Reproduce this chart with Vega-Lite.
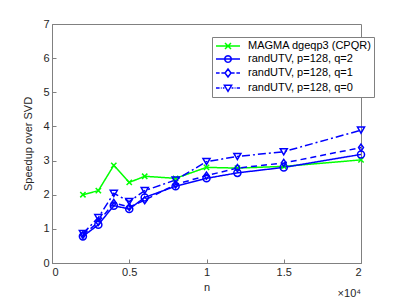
{
  "$schema": "https://vega.github.io/schema/vega-lite/v6.json",
  "width": 309,
  "height": 239,
  "autosize": "none",
  "padding": {"left": 52, "top": 24, "right": 38, "bottom": 36},
  "background": "white",
  "config": {
    "font": "Liberation Sans",
    "view": {"stroke": "#808080", "strokeWidth": 1},
    "axis": {
      "domainColor": "#808080",
      "tickColor": "#808080",
      "labelColor": "#262626",
      "titleColor": "#262626",
      "labelFontSize": 11,
      "titleFontSize": 11,
      "titleFontWeight": "normal",
      "grid": false,
      "tickSize": -4
    }
  },
  "data": {
    "values": [
      {"series": "MAGMA dgeqp3 (CPQR)", "n": 2000, "speedup": 2.0},
      {"series": "MAGMA dgeqp3 (CPQR)", "n": 3000, "speedup": 2.12},
      {"series": "MAGMA dgeqp3 (CPQR)", "n": 4000, "speedup": 2.86},
      {"series": "MAGMA dgeqp3 (CPQR)", "n": 5000, "speedup": 2.36},
      {"series": "MAGMA dgeqp3 (CPQR)", "n": 6000, "speedup": 2.54},
      {"series": "MAGMA dgeqp3 (CPQR)", "n": 8000, "speedup": 2.48},
      {"series": "MAGMA dgeqp3 (CPQR)", "n": 10000, "speedup": 2.8},
      {"series": "MAGMA dgeqp3 (CPQR)", "n": 12000, "speedup": 2.78},
      {"series": "MAGMA dgeqp3 (CPQR)", "n": 15000, "speedup": 2.83},
      {"series": "MAGMA dgeqp3 (CPQR)", "n": 20000, "speedup": 3.02},
      {"series": "randUTV, p=128, q=2", "n": 2000, "speedup": 0.78},
      {"series": "randUTV, p=128, q=2", "n": 3000, "speedup": 1.12},
      {"series": "randUTV, p=128, q=2", "n": 4000, "speedup": 1.68},
      {"series": "randUTV, p=128, q=2", "n": 5000, "speedup": 1.58},
      {"series": "randUTV, p=128, q=2", "n": 6000, "speedup": 1.92},
      {"series": "randUTV, p=128, q=2", "n": 8000, "speedup": 2.25},
      {"series": "randUTV, p=128, q=2", "n": 10000, "speedup": 2.48},
      {"series": "randUTV, p=128, q=2", "n": 12000, "speedup": 2.64},
      {"series": "randUTV, p=128, q=2", "n": 15000, "speedup": 2.8},
      {"series": "randUTV, p=128, q=2", "n": 20000, "speedup": 3.18},
      {"series": "randUTV, p=128, q=1", "n": 2000, "speedup": 0.82},
      {"series": "randUTV, p=128, q=1", "n": 3000, "speedup": 1.2},
      {"series": "randUTV, p=128, q=1", "n": 4000, "speedup": 1.76},
      {"series": "randUTV, p=128, q=1", "n": 5000, "speedup": 1.64},
      {"series": "randUTV, p=128, q=1", "n": 6000, "speedup": 1.84},
      {"series": "randUTV, p=128, q=1", "n": 8000, "speedup": 2.3},
      {"series": "randUTV, p=128, q=1", "n": 10000, "speedup": 2.56},
      {"series": "randUTV, p=128, q=1", "n": 12000, "speedup": 2.78},
      {"series": "randUTV, p=128, q=1", "n": 15000, "speedup": 2.93},
      {"series": "randUTV, p=128, q=1", "n": 20000, "speedup": 3.38},
      {"series": "randUTV, p=128, q=0", "n": 2000, "speedup": 0.86},
      {"series": "randUTV, p=128, q=0", "n": 3000, "speedup": 1.33},
      {"series": "randUTV, p=128, q=0", "n": 4000, "speedup": 2.04},
      {"series": "randUTV, p=128, q=0", "n": 5000, "speedup": 1.8},
      {"series": "randUTV, p=128, q=0", "n": 6000, "speedup": 2.12},
      {"series": "randUTV, p=128, q=0", "n": 8000, "speedup": 2.43},
      {"series": "randUTV, p=128, q=0", "n": 10000, "speedup": 2.97},
      {"series": "randUTV, p=128, q=0", "n": 12000, "speedup": 3.12},
      {"series": "randUTV, p=128, q=0", "n": 15000, "speedup": 3.26},
      {"series": "randUTV, p=128, q=0", "n": 20000, "speedup": 3.89}
    ]
  },
  "encoding": {
    "x": {
      "field": "n", "type": "quantitative",
      "scale": {"domain": [0, 20000], "nice": false, "zero": false},
      "axis": {"values": [0, 5000, 10000, 15000, 20000], "labelExpr": "datum.value / 10000", "title": "n", "labelPadding": 7, "titlePadding": 4}
    },
    "y": {
      "field": "speedup", "type": "quantitative",
      "scale": {"domain": [0, 7], "nice": false},
      "axis": {"values": [0, 1, 2, 3, 4, 5, 6, 7], "title": "Speedup over SVD", "labelPadding": 7, "titlePadding": 9}
    },
    "color": {
      "field": "series", "type": "nominal",
      "scale": {
        "domain": ["MAGMA dgeqp3 (CPQR)", "randUTV, p=128, q=2", "randUTV, p=128, q=1", "randUTV, p=128, q=0"],
        "range": ["#00ff00", "#0000ff", "#0000ff", "#0000ff"]
      },
      "legend": {
        "orient": "none",
        "legendX": 160,
        "legendY": 13,
        "title": null,
        "fillColor": "white",
        "strokeColor": "#808080",
        "padding": 2,
        "labelFontSize": 11,
        "labelColor": "#000000",
        "symbolSize": 144,
        "symbolOffset": 7,
        "rowPadding": -1.5,
        "labelOffset": 13,
        "symbolStrokeWidth": 1.5,
        "symbolFillColor": "transparent",
        "encode": {
          "symbols": {
            "update": {
              "shape": {"signal": "datum.value === 'MAGMA dgeqp3 (CPQR)' ? 'M-2,0L2,0M-0.5,-0.5L0.5,0.5M-0.5,0.5L0.5,-0.5' : datum.value === 'randUTV, p=128, q=2' ? 'M-2,0L2,0M0.55,0L0.476,0.275L0.275,0.476L0,0.55L-0.275,0.476L-0.476,0.275L-0.55,0L-0.476,-0.275L-0.275,-0.476L0,-0.55L0.275,-0.476L0.476,-0.275Z' : datum.value === 'randUTV, p=128, q=1' ? 'M-2,0L-1.4,0M-1.1,0L-0.5,0M0,-0.67L0.5,0L0,0.67L-0.5,0ZM0.5,0L1.1,0M1.4,0L2,0' : 'M-2,0L-1.4,0M-1.2,0L-1.05,0M-0.85,0L-0.6,0M-0.6,-0.45L0.6,-0.45L0,0.55ZM0.6,0L0.9,0M1.1,0L1.25,0M1.45,0L2,0'"},
              "strokeDash": {"value": []},
              "fill": {"value": "transparent"},
              "strokeWidth": {"value": 1.5}
            }
          }
        }
      }
    }
  },
  "layer": [
    {
      "mark": {"type": "line", "strokeWidth": 1.5},
      "encoding": {
        "strokeDash": {
          "condition": [
            {"test": "datum.series === 'randUTV, p=128, q=1'", "value": [6, 4]},
            {"test": "datum.series === 'randUTV, p=128, q=0'", "value": [8, 3, 2, 3]}
          ],
          "value": [1, 0]
        }
      }
    },
    {
      "mark": {"type": "point", "filled": false, "strokeWidth": 1.5, "size": 50, "opacity": 1},
      "encoding": {
        "shape": {
          "condition": [
            {"test": "datum.series === 'MAGMA dgeqp3 (CPQR)'", "value": "M-0.75,-0.75L0.75,0.75M-0.75,0.75L0.75,-0.75"},
            {"test": "datum.series === 'randUTV, p=128, q=2'", "value": "circle"},
            {"test": "datum.series === 'randUTV, p=128, q=1'", "value": "M0,-1L0.7,0L0,1L-0.7,0Z"}
          ],
          "value": "triangle-down"
        }
      }
    },
    {
      "data": {"values": [{"label": "×10⁴", "n": 20000, "speedup": 0}]},
      "mark": {"type": "text", "align": "right", "baseline": "middle", "dy": 31, "fontSize": 11, "color": "#262626"},
      "encoding": {
        "text": {"field": "label"},
        "color": {"value": "#262626"}
      }
    }
  ]
}
